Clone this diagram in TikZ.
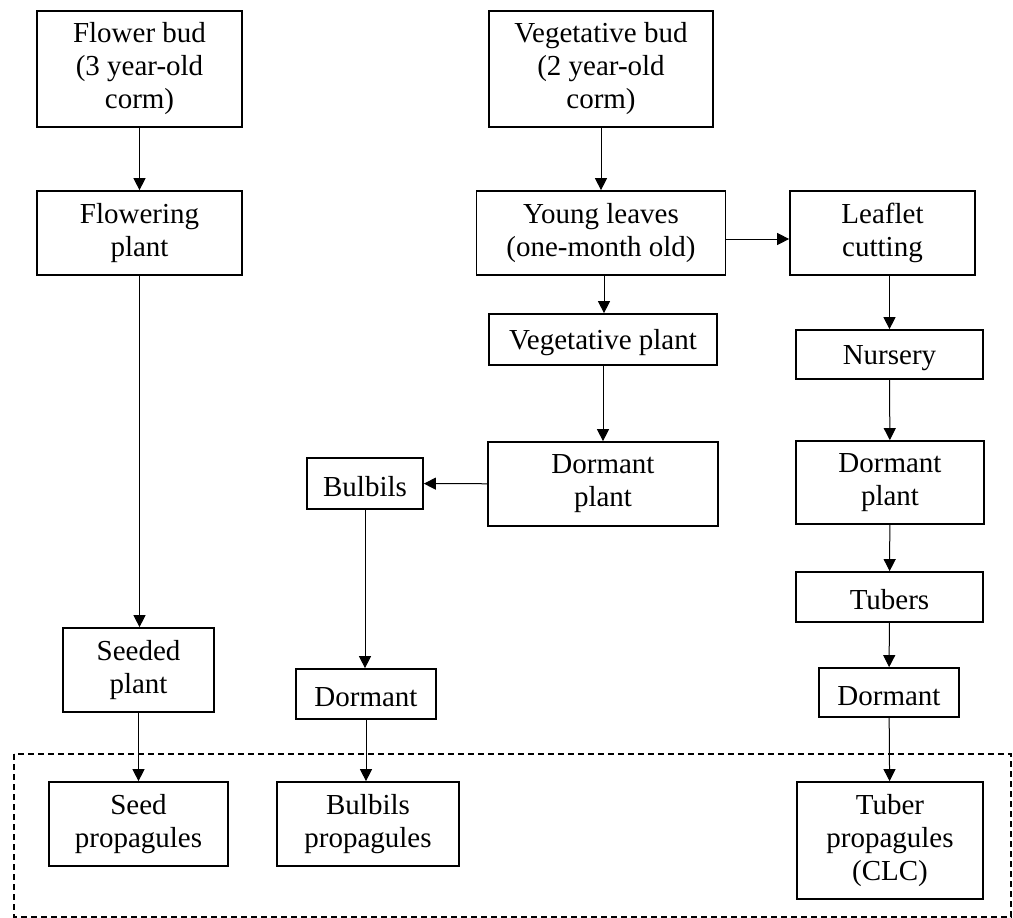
\documentclass[tikz,border=0pt]{standalone}
\usepackage{fontspec}
\setmainfont{Liberation Serif}
\usepackage{tikz}
\usetikzlibrary{arrows.meta}

\begin{document}
\begin{tikzpicture}[x=1pt,y=-1pt,
  box/.style={draw,line width=1.7pt,align=center,inner sep=0pt,
    font=\fontsize{29}{33}\selectfont,execute at begin node={\rule{0pt}{26pt}}},
  arr/.style={line width=1pt,-{Triangle[length=12pt,width=12pt]}}]
\useasboundingbox (0,0) rectangle (1013,918);
\draw[line width=1.4pt,dash pattern=on 6pt off 4pt] (14,754) rectangle (1011,917);
\node (fbud) at (139.5,69) [box,minimum width=205,minimum height=116] {Flower bud\\(3 year-old\\corm)};
\node (fplant) at (139.5,233) [box,minimum width=205,minimum height=84] {Flowering\\plant};
\node (seeded) at (138.5,670) [box,minimum width=151,minimum height=84] {Seeded\\plant};
\node (seedprop) at (138.5,824) [box,minimum width=179,minimum height=84] {Seed\\propagules};
\node (vbud) at (601,69) [box,minimum width=224,minimum height=116] {Vegetative bud\\(2 year-old\\corm)};
\node (young) at (601,233) [box,minimum width=249,minimum height=84] {Young leaves\\(one-month old)};
\node (vplant) at (603,339.5) [box,minimum width=228,minimum height=51] {Vegetative plant};
\node (dplant) at (603,484) [box,minimum width=230,minimum height=84] {Dormant\\plant};
\node (bulbils) at (365,483.5) [box,minimum width=116,minimum height=51] {Bulbils};
\node (dormb) at (366,694) [box,minimum width=140,minimum height=50] {Dormant};
\node (bulbprop) at (368,824) [box,minimum width=182,minimum height=84] {Bulbils\\propagules};
\node (leaflet) at (882.5,233) [box,minimum width=185,minimum height=84] {Leaflet\\cutting};
\node (nursery) at (889.5,354.5) [box,minimum width=187,minimum height=49] {Nursery};
\node (dplantb) at (890,482.5) [box,minimum width=188,minimum height=83] {Dormant\\plant};
\node (tubers) at (889.5,597) [box,minimum width=187,minimum height=50] {Tubers};
\node (dormt) at (889,692.5) [box,minimum width=140,minimum height=49] {Dormant};
\node (tuberprop) at (890,840.5) [box,minimum width=186,minimum height=117] {Tuber\\propagules\\(CLC)};
% seed line
\draw[arr] (fbud) -- (fplant);
\draw[arr] (fplant.south) -- (fplant.south |- seeded.north);
\draw[arr] (seeded.south) -- (seeded.south |- seedprop.north);
% vegetative line
\draw[arr] (vbud) -- (vbud |- young.north);
\draw[arr] ([xshift=3pt]young.south) -- ([xshift=3pt]young.south |- vplant.north);
\draw[arr] (vplant) -- (dplant);
\draw[arr] (dplant) -- (bulbils);
\draw[arr] (bulbils.south) -- (bulbils.south |- dormb.north);
\draw[arr] (dormb.south) -- (dormb.south |- bulbprop.north);
% leaflet line
\draw[arr] ([yshift=-6pt]young.east) -- ([yshift=-6pt]young.east -| leaflet.west);
\draw[arr] (leaflet.south -| nursery) -- (nursery);
\draw[arr] (nursery) -- (dplantb);
\draw[arr] (dplantb) -- (tubers);
\draw[arr] (tubers) -- (dormt);
\draw[arr] (dormt) -- (tuberprop);
\end{tikzpicture}
\end{document}
